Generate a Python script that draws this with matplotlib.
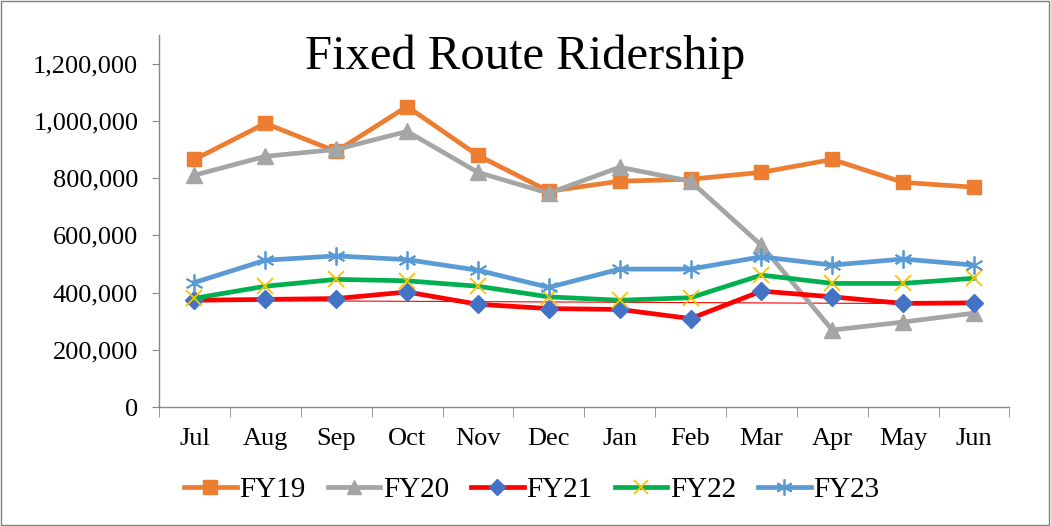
import numpy as np
import matplotlib
matplotlib.use("Agg")
import matplotlib.pyplot as plt
from matplotlib.patches import Rectangle

months = ["Jul", "Aug", "Sep", "Oct", "Nov", "Dec", "Jan", "Feb", "Mar", "Apr", "May", "Jun"]
fy19 = [865000, 991000, 893000, 1050000, 879000, 754000, 789000, 796000, 820000, 865000, 785000, 768000]
fy20 = [810000, 876000, 900000, 963000, 820000, 747000, 838000, 789000, 565000, 269000, 297000, 328000]
fy21 = [373000, 376000, 379000, 402000, 359000, 344000, 341000, 309000, 405000, 385000, 362000, 364000]
fy22 = [380000, 422000, 446000, 441000, 422000, 385000, 373000, 382000, 461000, 432000, 432000, 450000]
fy23 = [435000, 513000, 528000, 515000, 478000, 418000, 482000, 482000, 525000, 496000, 517000, 496000]
yticks = [0, 200000, 400000, 600000, 800000, 1000000, 1200000]

plt.rcParams['font.family'] = ['Liberation Serif', 'DejaVu Serif']

fig = plt.figure(figsize=(10.51, 5.26), dpi=100)
ax = fig.add_axes([0.1513, 0.2262, 0.8092, 0.7073])

x = np.arange(len(months))
lw = 3.4
ax.plot(x, fy19, color="#ED7D31", lw=lw, marker="s", ms=10.5, mfc="#ED7D31", mec="#ED7D31", label="FY19", zorder=3)
ax.plot(x, fy20, color="#A5A5A5", lw=lw, marker="^", ms=11, mfc="#A5A5A5", mec="#A5A5A5", label="FY20", zorder=3)
ax.plot(x, fy21, color="#FF0000", lw=lw, marker="D", ms=9, mfc="#4472C4", mec="#4472C4", label="FY21", zorder=3)
ax.plot(x, fy22, color="#00B050", lw=lw, marker="x", ms=11, mec="#FFC000", mew=1.3, label="FY22", zorder=3)
ax.plot(x, fy23, color="#5B9BD5", lw=lw, marker=(6, 2, 0), ms=13, mec="#5B9BD5", mew=1.3, label="FY23", zorder=3)

# linear trendline for FY21
coef = np.polyfit(x, fy21, 1)
ax.plot(x, np.polyval(coef, x), color="#FF0000", lw=0.8, zorder=2)

ax.set_xlim(-0.5, 11.5)
ax.set_ylim(0, 1300000)
ax.set_yticks(yticks)
ax.set_yticklabels([f"{v:,}" for v in yticks], fontsize=19)
ax.set_xticks(x)
ax.set_xticklabels(months, fontsize=19)
ax.set_xticks(np.arange(-0.5, 12, 1), minor=True)
ax.tick_params(axis="x", which="major", length=0, pad=15)
ax.tick_params(axis="x", which="minor", length=7, color="#888888", direction="out")
ax.tick_params(axis="y", length=5, color="#888888", direction="out", pad=10)
for s in ["top", "right"]:
    ax.spines[s].set_visible(False)
for s in ["left", "bottom"]:
    ax.spines[s].set_color("#888888")
    ax.spines[s].set_linewidth(1.0)

fig.text(0.5, 0.892, "Fixed Route Ridership", ha="center", va="center", fontsize=35)

fig.legend(loc="center", bbox_to_anchor=(0.506, 0.068), ncol=5, frameon=False, fontsize=21,
           handlelength=1.8, handletextpad=0.1, columnspacing=0.75, markerscale=0.9)

fig.patches.append(Rectangle((0.001, 0.001), 0.997, 0.997, transform=fig.transFigure,
                             fill=False, edgecolor="#7f7f7f", lw=1.0))

fig.savefig("out.png", dpi=100)
